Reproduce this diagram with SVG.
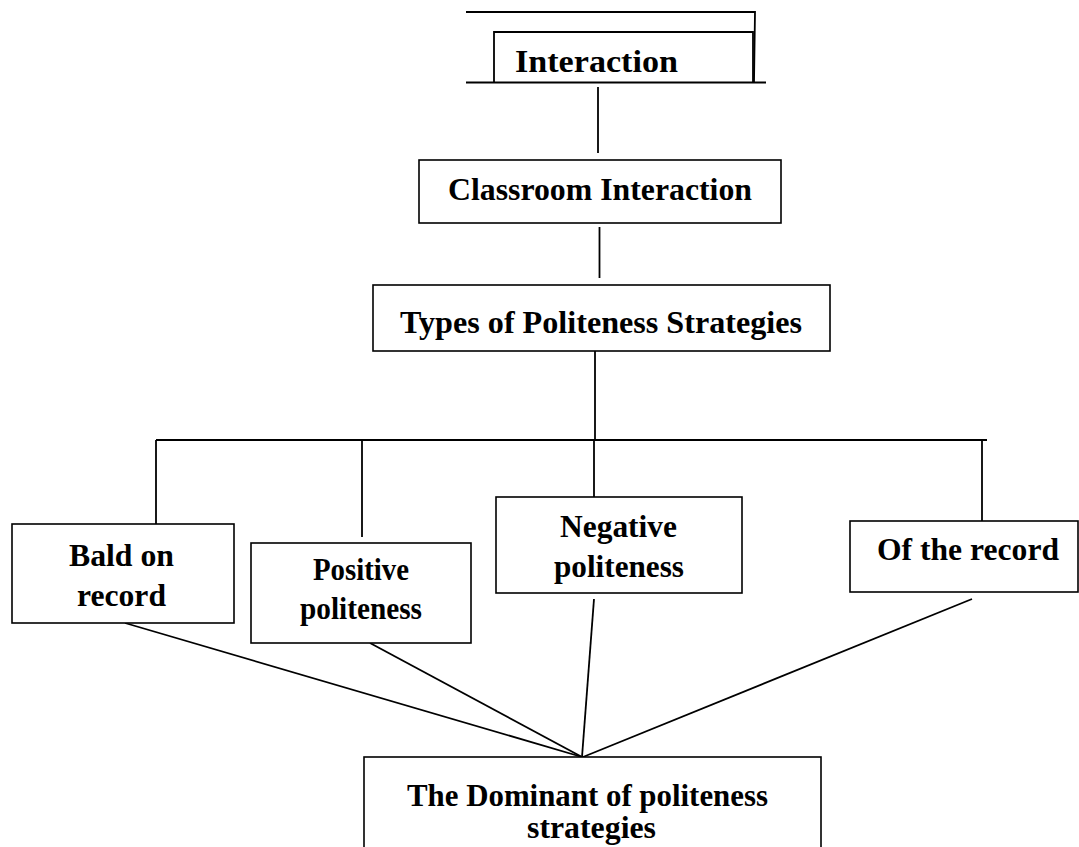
<svg xmlns="http://www.w3.org/2000/svg" width="1079" height="847" viewBox="0 0 1079 847">
<style>
.box{fill:#fff;stroke:#000;stroke-width:1.6}
.ln{stroke:#000;stroke-width:1.8;fill:none}
.t{font-family:"Liberation Serif","Times New Roman",serif;font-weight:bold;font-size:31px;fill:#000;text-anchor:middle}
</style>
<rect width="1079" height="847" fill="#fff"/>
<g id="connectors">
<line class="ln" x1="598" y1="87" x2="598" y2="153"/>
<line class="ln" x1="599.5" y1="227" x2="599.5" y2="278"/>
<line class="ln" x1="595" y1="351" x2="595" y2="440"/>
<line class="ln" x1="156" y1="440" x2="987" y2="440"/>
<line class="ln" x1="156" y1="440" x2="156" y2="524"/>
<line class="ln" x1="362" y1="440" x2="362" y2="537"/>
<line class="ln" x1="594" y1="440" x2="594" y2="497"/>
<line class="ln" x1="982" y1="440" x2="982" y2="521"/>
<line class="ln" x1="125" y1="623" x2="582" y2="757"/>
<line class="ln" x1="370" y1="643" x2="582" y2="757"/>
<line class="ln" x1="594" y1="599" x2="582" y2="757"/>
<line class="ln" x1="972" y1="599" x2="583" y2="757"/>
</g>
<g id="n-interaction">
<path class="ln" d="M466 12 H755 L754 82"/>
<path class="ln" d="M494 82 V32 H753 V82"/>
<line class="ln" x1="466" y1="82.5" x2="766" y2="82.5"/>
<text class="t" x="596.5" y="72" font-size="30" textLength="163" lengthAdjust="spacingAndGlyphs">Interaction</text>
</g>
<g id="n-classroom">
<rect class="box" x="419" y="160" width="362" height="63"/>
<text class="t" x="600" y="200" textLength="304" lengthAdjust="spacingAndGlyphs">Classroom Interaction</text>
</g>
<g id="n-types">
<rect class="box" x="373" y="285" width="457" height="66"/>
<text class="t" x="601" y="333" textLength="402" lengthAdjust="spacingAndGlyphs">Types of Politeness Strategies</text>
</g>
<g id="n-bald">
<rect class="box" x="12" y="524" width="222" height="99"/>
<text class="t" x="121.5" y="566" textLength="105" lengthAdjust="spacingAndGlyphs">Bald on</text>
<text class="t" x="121.5" y="606" textLength="89" lengthAdjust="spacingAndGlyphs">record</text>
</g>
<g id="n-positive">
<rect class="box" x="251" y="543" width="220" height="100"/>
<text class="t" x="361" y="580" font-size="28" textLength="96" lengthAdjust="spacingAndGlyphs">Positive</text>
<text class="t" x="361" y="619" font-size="28" textLength="122" lengthAdjust="spacingAndGlyphs">politeness</text>
</g>
<g id="n-negative">
<rect class="box" x="496" y="497" width="246" height="96"/>
<text class="t" x="618.5" y="537" textLength="117" lengthAdjust="spacingAndGlyphs">Negative</text>
<text class="t" x="619" y="577" textLength="130" lengthAdjust="spacingAndGlyphs">politeness</text>
</g>
<g id="n-offrecord">
<rect class="box" x="850" y="521" width="228" height="71"/>
<text class="t" x="968" y="560" textLength="182" lengthAdjust="spacingAndGlyphs">Of the record</text>
</g>
<g id="n-dominant">
<rect class="box" x="364" y="757" width="457" height="110"/>
<text class="t" x="587.5" y="806" textLength="361" lengthAdjust="spacingAndGlyphs">The Dominant of politeness</text>
<text class="t" x="591.5" y="838" textLength="129" lengthAdjust="spacingAndGlyphs">strategies</text>
</g>
</svg>
